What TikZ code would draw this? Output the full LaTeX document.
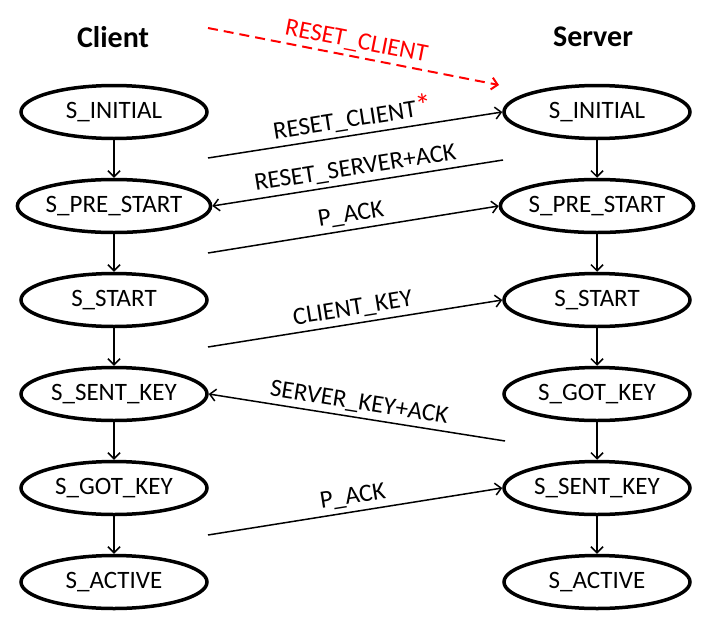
\documentclass[tikz,border=0pt]{standalone}
\usepackage{fontspec}
\setmainfont{Carlito}
\usetikzlibrary{shapes.geometric,arrows.meta}
\begin{document}
\begin{tikzpicture}[x=1pt,y=-1pt,
  state/.style={ellipse,draw,line width=3.5pt,minimum width=186pt,minimum height=53pt,inner sep=0pt,font=\fontsize{25}{28}\selectfont},
  title/.style={font=\fontsize{30}{34}\selectfont\bfseries},
  msg/.style={line width=1.5pt},
  lbl/.style={sloped,above,font=\fontsize{25}{28}\selectfont,inner sep=4pt},
  flow/.style={line width=1.5pt,-{Straight Barb[length=6pt,width=12pt]}}]
\useasboundingbox (0,0) rectangle (720,640);
\node[title] (client) at (113,37) {Client};
\node[title] (server) at (593,37) {Server};
\foreach \n/\t/\y in {ci/S\_INITIAL/112, cp/S\_PRE\_START/206, cs/S\_START/300, ck/S\_SENT\_KEY/394, cg/S\_GOT\_KEY/488, ca/S\_ACTIVE/582}
  \node[state] (\n) at (114,\y) {\raisebox{-2pt}{\t}};
\foreach \n/\t/\y in {si/S\_INITIAL/112, sp/S\_PRE\_START/206, ss/S\_START/300, sg/S\_GOT\_KEY/394, sk/S\_SENT\_KEY/488, sa/S\_ACTIVE/582}
  \node[state] (\n) at (597,\y) {\raisebox{-2pt}{\t}};
\draw[flow] (ci) -- (cp);
\draw[flow] (cp) -- (cs);
\draw[flow] (cs) -- (ck);
\draw[flow] (ck) -- (cg);
\draw[flow] (cg) -- (ca);
\draw[flow] (si) -- (sp);
\draw[flow] (sp) -- (ss);
\draw[flow] (ss) -- (sg);
\draw[flow] (sg) -- (sk);
\draw[flow] (sk) -- (sa);
\coordinate (r0) at (208,28);
\coordinate (r1) at (499,85);
\coordinate (a1) at (208,158);
\coordinate (a2) at (503,160);
\coordinate (a3) at (208,253);
\coordinate (a4) at (208,347);
\coordinate (a5) at (505,441);
\coordinate (a6) at (208,535);
\draw[red,line width=2pt,dash pattern=on 10pt off 6pt,-{Straight Barb[length=6pt,width=12pt]}] (r0) -- node[lbl,text=red] {RESET\_CLIENT} (r1);
\draw[flow] (a1) -- node[lbl] {RESET\_CLIENT\textcolor{red}{\fontsize{32}{32}\selectfont*}} (si.west);
\draw[msg,{Straight Barb[length=6pt,width=12pt]}-] (cp.east) -- node[lbl] {RESET\_SERVER+ACK} (a2);
\draw[flow] (a3) -- node[lbl] {P\_ACK} (sp.west);
\draw[flow] (a4) -- node[lbl] {CLIENT\_KEY} (ss.west);
\draw[msg,{Straight Barb[length=6pt,width=12pt]}-] (ck.east) -- node[lbl] {SERVER\_KEY+ACK} (a5);
\draw[flow] (a6) -- node[lbl] {P\_ACK} (sk.west);
\end{tikzpicture}
\end{document}
